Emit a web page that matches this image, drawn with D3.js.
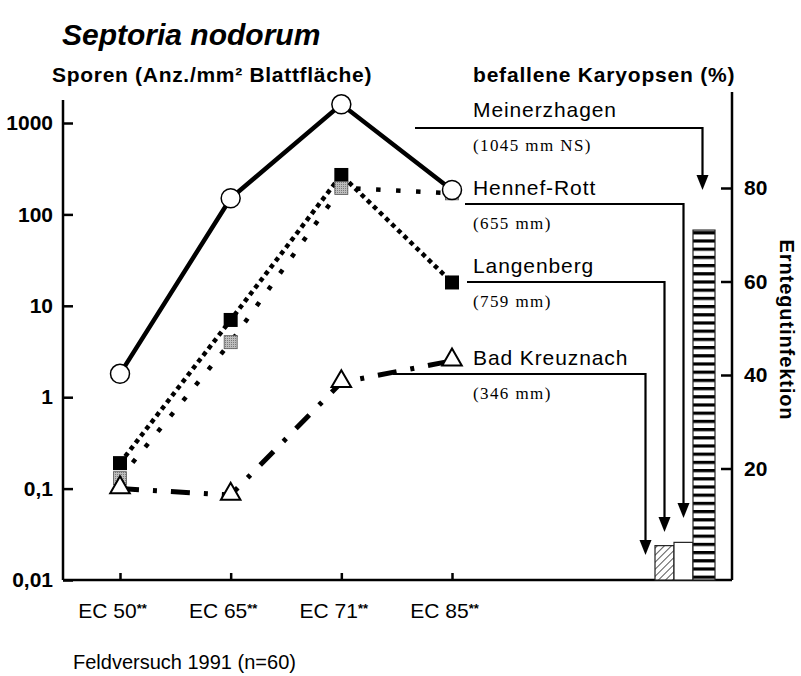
<!DOCTYPE html>
<html>
<head>
<meta charset="utf-8">
<script src="https://cdn.jsdelivr.net/npm/d3@7"></script>
<style>
  body { margin: 0; background: #fff; }
  svg text { font-family: "Liberation Sans", Arial, sans-serif; fill: #000; }
  .axis path, .axis line { stroke: #000; stroke-width: 2.5; }
  .axis text { font-weight: bold; font-size: 21px; }
  .xaxis text { font-weight: normal; font-size: 21px; }
  .site { font-size: 21px; letter-spacing: 0.9px; }
  .rain { font-family: "Liberation Serif", "Times New Roman", serif; font-size: 17px; letter-spacing: 1.4px; }
</style>
</head>
<body>
<div id="chart"></div>
<script>
// stages along the x axis
var stages = ["EC 50", "EC 65", "EC 71", "EC 85"];

// spores per mm² leaf area, one array per site
var meinerzhagen = [1.8, 150, 1600, 185];
var hennefRott = [0.13, 4, 195, 170];
var langenberg = [0.19, 7, 270, 18];
var badKreuznach = [0.1, 0.085, 1.45, 2.5];

// infected grains (%) per site, same order as the bars
var sites = ["Bad Kreuznach", "Langenberg", "Hennef-Rott", "Meinerzhagen"];
var rainfall = ["(346 mm)", "(759 mm)", "(655 mm)", "(1045 mm NS)"];
var grainInfection = [0, 3.5, 4.2, 71];

// axis ticks
var leftTicks = [0.01, 0.1, 1, 10, 100, 1000];
var leftTickLabels = ["0,01", "0,1", "1", "10", "100", "1000"];
var rightTicks = [20, 40, 60, 80];

var margin = {top: 100, right: 69, bottom: 96, left: 63};
var width = 801 - margin.left - margin.right,
    height = 676 - margin.top - margin.bottom;

var svg = d3.select("#chart").append("svg")
    .attr("width", 801)
    .attr("height", 676);

var g = svg.append("g")
    .attr("transform", "translate(" + margin.left + "," + margin.top + ")");

var xScale = d3.scalePoint()
    .domain(stages)
    .range([57, 389]);

var yScale = d3.scaleLog()
    .domain([0.01, 1000])
    .range([height, 23]);

var yRight = d3.scaleLinear()
    .domain([0, 80])
    .range([height - 18, 88]);

var barScale = d3.scaleBand()
    .domain(sites)
    .range([573, 649]);

// patterns for the grain infection bars
var defs = svg.append("defs");
var hatch = defs.append("pattern")
    .attr("id", "hatch")
    .attr("patternUnits", "userSpaceOnUse")
    .attr("width", 5).attr("height", 5)
    .attr("patternTransform", "rotate(45)");
hatch.append("rect").attr("width", 5).attr("height", 5).attr("fill", "#fff");
hatch.append("line").attr("x1", 0).attr("y1", 0).attr("x2", 0).attr("y2", 5)
    .attr("stroke", "#000").attr("stroke-width", 1.3);

var stripes = defs.append("pattern")
    .attr("id", "stripes")
    .attr("patternUnits", "userSpaceOnUse")
    .attr("width", 30).attr("height", 8.2);
stripes.append("rect").attr("width", 30).attr("height", 8.2).attr("fill", "#fff");
stripes.append("rect").attr("x", 0).attr("y", 0).attr("width", 30).attr("height", 3.2).attr("fill", "#000");

var grain = defs.append("pattern")
    .attr("id", "grainy")
    .attr("patternUnits", "userSpaceOnUse")
    .attr("width", 2).attr("height", 2);
grain.append("rect").attr("width", 2).attr("height", 2).attr("fill", "#bdbdbd");
grain.append("rect").attr("width", 1).attr("height", 1).attr("fill", "#7a7a7a");

// axes
var yAxis = d3.axisLeft(yScale)
    .tickValues(leftTicks)
    .tickFormat(function(d, i) { return leftTickLabels[i]; })
    .tickSize(-10)
    .tickPadding(10);

var xAxis = d3.axisBottom(xScale)
    .tickSize(-7)
    .tickPadding(23)
    .tickFormat(function(d) { return ""; });

var rightAxis = d3.axisRight(yRight)
    .tickValues(rightTicks)
    .tickSize(-11)
    .tickPadding(12);

var ya = g.append("g").attr("class", "axis").call(yAxis);
ya.select(".domain").remove();
ya.append("line").attr("x1", 0).attr("x2", 0).attr("y1", 0).attr("y2", height)
    .attr("stroke", "#000").attr("stroke-width", 2.5);

var xa = g.append("g").attr("class", "axis xaxis")
    .attr("transform", "translate(0," + height + ")")
    .call(xAxis);
xa.select(".domain").remove();
xa.append("line").attr("x1", 0).attr("x2", width).attr("y1", 0).attr("y2", 0)
    .attr("stroke", "#000").attr("stroke-width", 2.5);
var xt = xa.selectAll(".tick text").attr("x", -8);
xt.append("tspan").text(function(d) { return d; });
xt.append("tspan").attr("font-size", "13px").attr("font-weight", "bold").attr("dy", "-5").text("**");

var ra = g.append("g").attr("class", "axis")
    .attr("transform", "translate(" + width + ",0)")
    .call(rightAxis);
ra.select(".domain").remove();
ra.selectAll(".tick text").attr("font-size", "20px");
ra.append("line").attr("x1", 0).attr("x2", 0).attr("y1", -8).attr("y2", height)
    .attr("stroke", "#000").attr("stroke-width", 2.5);

// bars
var barData = sites.map(function(s, i) { return {site: s, value: grainInfection[i]}; });
var barFill = {"Bad Kreuznach": "#fff", "Langenberg": "url(#hatch)", "Hennef-Rott": "#fff", "Meinerzhagen": "url(#stripes)"};
g.selectAll(".bar")
    .data(barData.filter(function(d) { return d.value > 0; }))
    .enter().append("rect")
    .attr("class", "bar")
    .attr("x", function(d) { return barScale(d.site); })
    .attr("y", function(d) { return yRight(d.value); })
    .attr("width", function(d) { return d.site == "Meinerzhagen" ? barScale.bandwidth() + 3 : barScale.bandwidth(); })
    .attr("height", function(d) { return height - yRight(d.value); })
    .attr("fill", function(d) { return barFill[d.site]; })
    .attr("stroke", "#222")
    .attr("stroke-width", 1.2);

// lines
var series = [
  {name: "Hennef-Rott", values: hennefRott, dash: "4.5,15.5", width: 4.5},
  {name: "Langenberg", values: langenberg, dash: "4.5,4", width: 4.5},
  {name: "Bad Kreuznach", values: badKreuznach, dash: "19,14,4,14", width: 5},
  {name: "Meinerzhagen", values: meinerzhagen, dash: null, width: 4.5}
];

var line = d3.line()
    .x(function(d, i) { return xScale(stages[i]); })
    .y(function(d) { return yScale(d); });

g.selectAll(".series")
    .data(series)
    .enter().append("path")
    .attr("class", "series")
    .attr("d", function(d) { return line(d.values); })
    .attr("fill", "none")
    .attr("stroke", "#000")
    .attr("stroke-width", function(d) { return d.width; })
    .attr("stroke-dasharray", function(d) { return d.dash; });

// markers
g.selectAll(".lb")
    .data(langenberg)
    .enter().append("rect")
    .attr("x", function(d, i) { return xScale(stages[i]) - 7; })
    .attr("y", function(d) { return yScale(d) - 7; })
    .attr("width", 14).attr("height", 14)
    .attr("fill", "#000");

g.selectAll(".hr")
    .data(hennefRott)
    .enter().append("rect")
    .attr("x", function(d, i) { return xScale(stages[i]) - 6.5; })
    .attr("y", function(d) { return yScale(d) - 6.5; })
    .attr("width", 13).attr("height", 13)
    .attr("fill", "url(#grainy)")
    .attr("stroke", "#555").attr("stroke-width", 0.8);

var tri = d3.symbol().type(d3.symbolTriangle).size(165);
g.selectAll(".bk")
    .data(badKreuznach)
    .enter().append("path")
    .attr("transform", function(d, i) { return "translate(" + xScale(stages[i]) + "," + (yScale(d) - 1) + ")"; })
    .attr("d", tri)
    .attr("fill", "#fff")
    .attr("stroke", "#000")
    .attr("stroke-width", 2);

g.selectAll(".mz")
    .data(meinerzhagen)
    .enter().append("circle")
    .attr("cx", function(d, i) { return xScale(stages[i]); })
    .attr("cy", function(d) { return yScale(d); })
    .attr("r", 9.5)
    .attr("fill", "#fff")
    .attr("stroke", "#000")
    .attr("stroke-width", 1.5);

// site labels with arrows down to the bars
var labelLayout = {
  "Meinerzhagen": {lineY: 28, startX: 352, tipY: 90, textY: 17},
  "Hennef-Rott": {lineY: 104, startX: 402, tipY: 418, textY: 95},
  "Langenberg": {lineY: 182, startX: 404, tipY: 432, textY: 173},
  "Bad Kreuznach": {lineY: 274, startX: 330, tipY: 455, textY: 265}
};

sites.forEach(function(s, i) {
  var L = labelLayout[s];
  var ax = barScale(s) + barScale.bandwidth() / 2;
  g.append("path")
    .attr("d", "M" + L.startX + "," + L.lineY + "H" + ax + "V" + (L.tipY - 12))
    .attr("fill", "none")
    .attr("stroke", "#000")
    .attr("stroke-width", 2.2);
  g.append("path")
    .attr("d", "M" + (ax - 6) + "," + (L.tipY - 15) + "L" + (ax + 6) + "," + (L.tipY - 15) + "L" + ax + "," + L.tipY + "Z")
    .attr("fill", "#000");
  g.append("text").attr("class", "site")
    .attr("x", 410).attr("y", L.textY)
    .text(s);
  g.append("text").attr("class", "rain")
    .attr("x", 410).attr("y", L.textY + 34)
    .text(rainfall[i]);
});

// titles
svg.append("text")
    .attr("x", 62).attr("y", 45)
    .attr("font-size", "30px").attr("font-weight", "bold").attr("font-style", "italic")
    .text("Septoria nodorum");

svg.append("text")
    .attr("x", 52).attr("y", 82)
    .attr("font-size", "21px").attr("font-weight", "bold").attr("letter-spacing", "0.7px")
    .text("Sporen (Anz./mm² Blattfläche)");

svg.append("text")
    .attr("x", 473).attr("y", 82)
    .attr("font-size", "21px").attr("font-weight", "bold").attr("letter-spacing", "0.8px")
    .text("befallene Karyopsen (%)");

svg.append("text")
    .attr("transform", "translate(780,330) rotate(90)")
    .attr("text-anchor", "middle")
    .attr("font-size", "20px").attr("font-weight", "bold").attr("letter-spacing", "0.9px")
    .text("Erntegutinfektion");

svg.append("text")
    .attr("x", 73).attr("y", 669)
    .attr("font-size", "20px")
    .text("Feldversuch 1991 (n=60)");
</script>
</body>
</html>
